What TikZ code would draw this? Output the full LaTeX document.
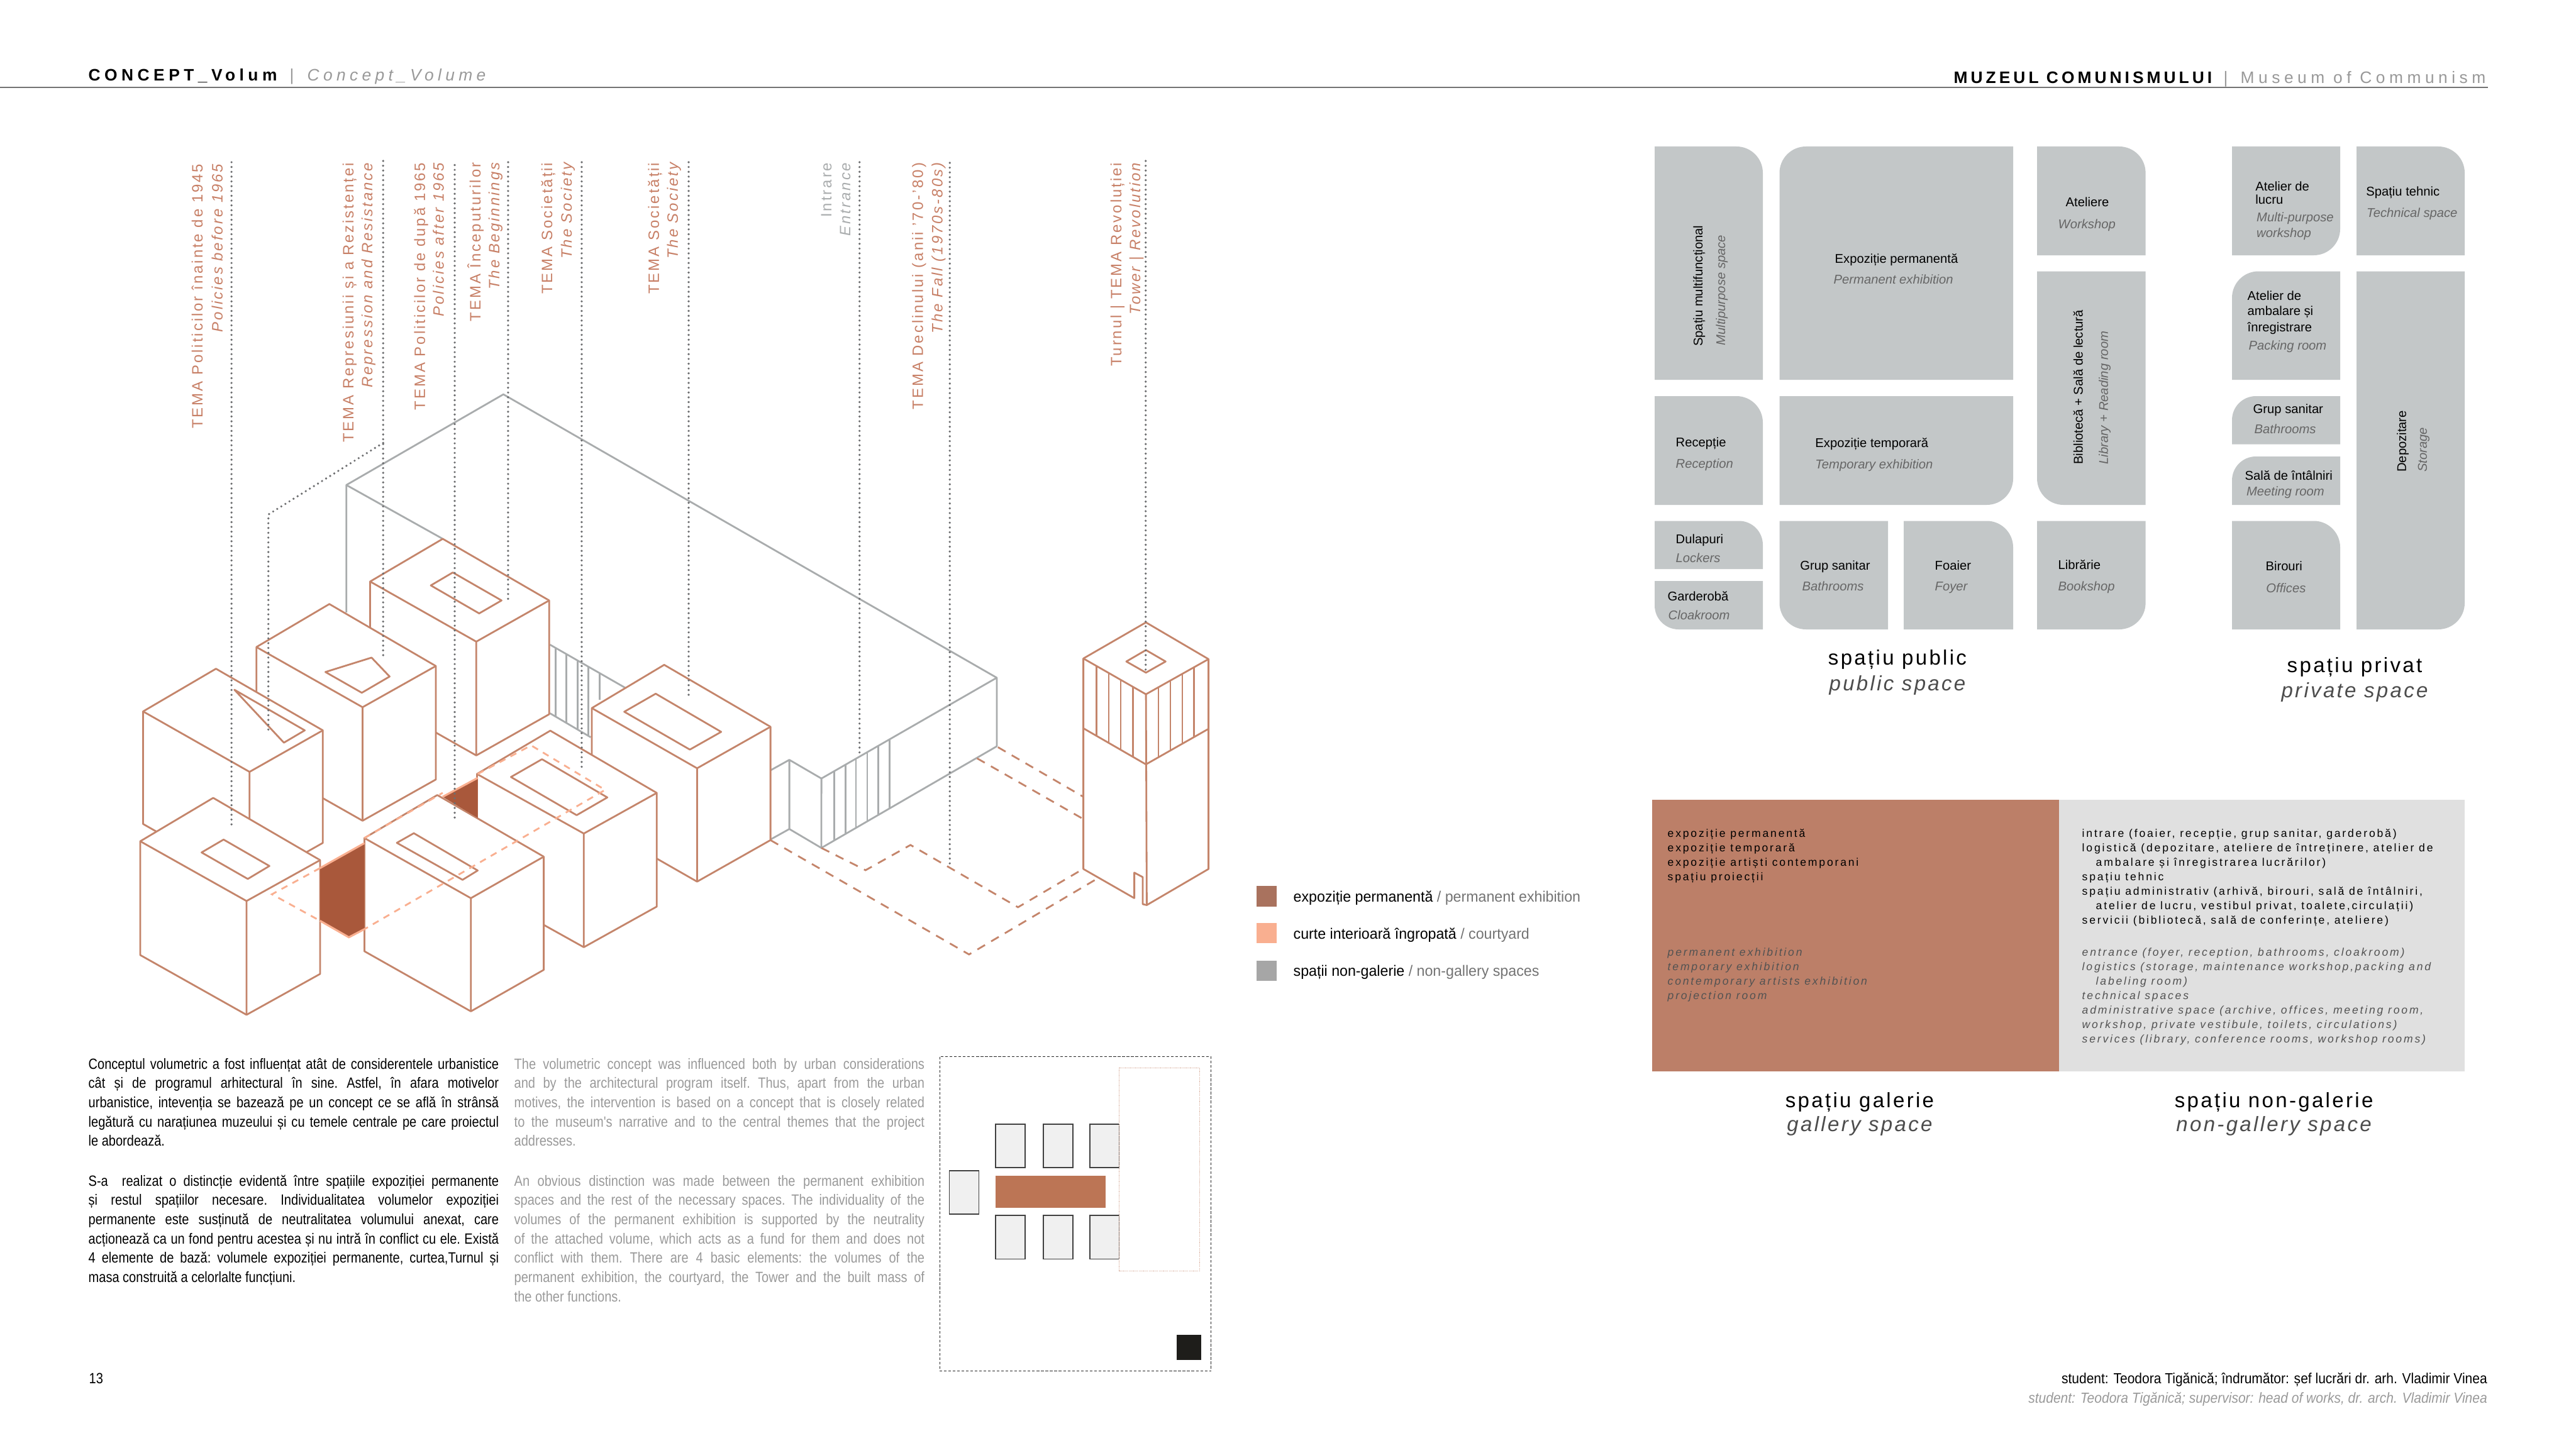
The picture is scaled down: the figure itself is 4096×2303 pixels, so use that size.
\documentclass[tikz,border=0pt]{standalone}
\usepackage{fontspec}
\setmainfont{Liberation Sans}
\newfontfamily\bodyfont[FakeStretch=0.85]{Liberation Sans}
\definecolor{terra}{HTML}{C4856B}
\definecolor{terratext}{HTML}{C77F66}
\definecolor{annexgray}{HTML}{A9ACAD}
\definecolor{guidegray}{HTML}{6D6E70}
\definecolor{salmon}{HTML}{F9AF90}
\definecolor{pitfill}{HTML}{A9583B}
\definecolor{roomgray}{HTML}{C3C7C8}
\definecolor{galbrown}{HTML}{BC7F68}
\definecolor{galgray}{HTML}{E0E0E0}
\definecolor{engray}{HTML}{999999}
\definecolor{roomen}{HTML}{666666}
\definecolor{planbrown}{HTML}{BC7555}
\definecolor{plantower}{HTML}{1E1D1A}
\tikzset{
  vol/.style={draw=terra,fill=white,line width=0.8pt,line join=round},
  hatchv/.style={draw=terra,line width=0.7pt},
  annex/.style={draw=annexgray,line width=0.8pt,line join=round},
  guide/.style={draw=guidegray,line width=1.05pt,line cap=round,dash pattern=on 0pt off 2.17pt},
  dashb/.style={draw=terra,line width=0.8pt,dash pattern=on 4pt off 3.2pt},
  dashs/.style={draw=salmon,line width=0.8pt,dash pattern=on 3pt off 2.6pt},
  room/.style={fill=roomgray},
  plainbox/.style={draw=black!75,fill=black!6,line width=0.5pt},
  lab/.style={inner sep=0pt,rotate=90,anchor=base east,text=terratext,
    font=\fontsize{6.8}{8}\selectfont\addfontfeatures{LetterSpace=12.5}},
  labit/.style={lab,font=\fontsize{6.8}{8}\selectfont\itshape\addfontfeatures{LetterSpace=12.5}},
  rm/.style={inner sep=0pt,anchor=base west,text=black,font=\fontsize{5.75}{7}\selectfont},
  rmen/.style={rm,text=roomen,font=\fontsize{5.75}{7}\selectfont\itshape},
  rot/.style={rotate=90},
  head/.style={inner sep=0pt,anchor=base,font=\fontsize{9.4}{11}\selectfont\addfontfeatures{LetterSpace=10}},
  headen/.style={head,text=black!70,font=\fontsize{9.4}{11}\selectfont\itshape\addfontfeatures{LetterSpace=10}},
  gal/.style={inner sep=0pt,anchor=base west,font=\fontsize{5}{6}\selectfont\addfontfeatures{LetterSpace=16}},
  galen/.style={gal,text=black!68,font=\fontsize{5}{6}\selectfont\itshape\addfontfeatures{LetterSpace=16}},
  body/.style={inner sep=0pt,anchor=base west,font=\bodyfont\fontsize{6.7}{8}\selectfont\frenchspacing},
  bodyen/.style={body,text=engray},
  foot/.style={body,anchor=base east,font=\bodyfont\fontsize{6.6}{8}\selectfont\addfontfeatures{FakeStretch=0.905}},
  top/.style={inner sep=0pt,anchor=base west,font=\fontsize{7.5}{9}\selectfont}
}
% one volume: top face left, back, right, front, then the height
\newcommand{\volbox}[9]{
  \path[vol] (#1,#2) -- (#3,#4) -- (#5,#6) -- (#5,{#6+#9}) -- (#7,{#8+#9}) -- (#1,{#2+#9}) -- cycle;
  \draw[vol] (#1,#2) -- (#7,#8) -- (#5,#6) (#7,#8) -- (#7,{#8+#9});
}
% one room: box corners, then the radius of tl, tr, br, bl
\newcommand{\roomblock}[8]{
  \fill[room] ({#1+#5},#2) -- ({#3-#6},#2) arc[start angle=-90,end angle=0,radius=#6]
    -- (#3,{#4-#7}) arc[start angle=0,end angle=90,radius=#7]
    -- ({#1+#8},#4) arc[start angle=90,end angle=180,radius=#8]
    -- (#1,{#2+#5}) arc[start angle=180,end angle=270,radius=#5] -- cycle;
}
\begin{document}
\begin{tikzpicture}[x=0.01cm,y=-0.01cm]
  \useasboundingbox (0,0) rectangle (4096,2303);
  % the page header
  \draw[black!55,line width=0.5pt] (0,138.7) -- (3955.6,138.7);
  \node[top,font=\fontsize{7.5}{9}\selectfont\bfseries\addfontfeatures{LetterSpace=24.5}] (hl) at (140,129) {CONCEPT\_Volum};
  \node[top,text=engray] (hbar) at (460,129) {|};
  \node[top,text=engray,font=\fontsize{7.5}{9}\selectfont\itshape\addfontfeatures{LetterSpace=24}] (hle) at (488,129) {Concept\_Volume};
  \node[top,font=\fontsize{7.5}{9}\selectfont\bfseries\addfontfeatures{LetterSpace=19}] (hr) at (3106,132.3) {MUZEUL COMUNISMULUI};
  \node[top,text=engray] (hrbar) at (3535,132.3) {|};
  \node[top,text=engray,font=\fontsize{7.5}{9}\selectfont\addfontfeatures{LetterSpace=24.6}] (hre) at (3562,132.3) {Museum of Communism};
  % the annex behind the volumes
  \draw[annex] (550.7,974) -- (550.7,771.4) -- (800.4,627.2) -- (1584.9,1077.9) -- (1584.9,1187) -- (1306,1348.6) -- (1306.1,1238.2) -- (1584.9,1077.9);
  \draw[annex] (550.7,771.4) -- (704,857);
  \draw[annex] (1306.1,1238.2) -- (1255.1,1208.5) -- (1255.1,1318.5) -- (1306,1348.6);
  \draw[annex] (1225.1,1225.2) -- (1255.1,1208.5) (1225.1,1335.2) -- (1255.1,1318.5);
  \foreach \hx in {1326.6,1344.4,1361,1378.9,1396.7,1414.6}
    \draw[annex] (\hx,{1238.2-(\hx-1306)*0.575}) -- (\hx,{1348.6-(\hx-1306)*0.579});
  \draw[annex] (874.4,1025.3) -- (993.8,1093.7) (874.4,1134.4) -- (939.3,1172.6);
  \foreach \hx/\ht/\hb in {883.6/1030.6/1140.1,900.2/1040.1/1148.7,918.6/1050.7/1160.7,935.8/1060.7/1170.2,953.6/1071.2/1112.8}
    \draw[annex] (\hx,\ht) -- (\hx,\hb);
  % the paths on the ground
  \draw[dashb] (1586.8,1188.4) -- (1722.6,1267.3);
  \draw[dashb] (1553.6,1206.1) -- (1722.6,1302.7);
  \draw[dashb] (1225.1,1336.2) -- (1540.8,1518) -- (1743,1398.4);
  \draw[dashb] (1306,1348.6) -- (1376.3,1384) -- (1447.7,1343.9) -- (1618.7,1442.9) -- (1720.6,1383);
  % the volumes, back to front
  \volbox{588.5}{924.9}{704}{857}{873.2}{955}{757.3}{1020.5}{181}
  \draw[vol] (720,910.5) -- (797.5,955) -- (761.9,975.6) -- (685,931.1) -- cycle;
  \volbox{407.7}{1029.1}{523.7}{960.7}{693}{1059.3}{576.5}{1124.8}{180.5}
  \draw[vol] (517.4,1068.8) -- (590.8,1045.9) -- (619.5,1076) -- (575.3,1101.8) -- cycle;
  \volbox{941}{1126.2}{1056.1}{1057.4}{1225.1}{1155.9}{1108.4}{1221.9}{180.3}
  \draw[vol] (1042.6,1103.3) -- (1146.7,1164) -- (1096.9,1192.2) -- (992.6,1132) -- cycle;
  \volbox{227.5}{1131.5}{343.4}{1063.6}{513.3}{1161.6}{396.8}{1227.6}{179}
  \draw[vol] (372.7,1097) -- (484.6,1161.6) -- (451.4,1181.2) -- cycle;
  \volbox{758.4}{1231}{875}{1162.1}{1044.3}{1261.1}{928.3}{1325.7}{180.8}
  \draw[vol] (861.8,1207.5) -- (965.7,1268.3) -- (916.9,1296.5) -- (812.4,1235.8) -- cycle;
  \volbox{223}{1338}{339}{1269}{509}{1368}{392}{1433}{181}
  \draw[vol] (355.5,1335.3) -- (428.4,1377.3) -- (394,1397.9) -- (320.5,1355.8) -- cycle;
  \volbox{579.4}{1332.9}{695.3}{1264.5}{864.6}{1362.5}{748.7}{1428.5}{180}
  \draw[vol] (658,1325.2) -- (759.6,1384.5) -- (735.5,1399.3) -- (631,1340.5) -- cycle;
  % the sunken courtyard
  \fill[pitfill] (508.8,1380.7) -- (579.4,1341) -- (579.4,1477.8) -- (554.7,1490.7) -- (508.8,1464.4) -- cycle;
  \fill[pitfill] (703.9,1267.3) -- (759.6,1237.2) -- (759.6,1300.8) -- cycle;
  \draw[salmon,line width=0.9pt] (508.8,1380.7) -- (579.4,1341);
  \draw[salmon,line width=0.9pt] (579.4,1477.8) -- (554.7,1490.7) -- (508.8,1464.4);
  \draw[salmon,line width=0.9pt] (703.9,1267.3) -- (759.6,1237.2);
  \draw[dashs] (508.8,1380.7) -- (432.4,1422.3) -- (508.8,1464.4);
  \draw[dashs] (579.4,1332.9) -- (703.9,1261) (759.6,1231) -- (844.5,1185.5) -- (962.2,1256.3) -- (579.4,1477.8);
  % the tower
  \path[vol] (1722.6,1047.3) -- (1822.1,989.9) -- (1921.6,1048.3) -- (1921.6,1382.1) -- (1823.4,1439.5)
    -- (1817,1438) -- (1817,1395) -- (1803.6,1387.9) -- (1803.6,1428.5) -- (1722.6,1382.1) -- cycle;
  \draw[vol] (1722.6,1047.3) -- (1822.1,1104.2) -- (1921.6,1048.3);
  \draw[vol] (1722.6,1158.3) -- (1822.1,1215.7) -- (1921.6,1159.2);
  \draw[vol] (1822.1,1104.2) -- (1823.4,1439.5);
  \draw[vol] (1822.1,1033.9) -- (1853.4,1052.1) -- (1822.1,1069.8) -- (1790.9,1052.1) -- cycle;
  \foreach \hx in {1743.7,1762.8,1781.9,1801.7}
    \draw[hatchv] (\hx,{1047.3+(\hx-1722.6)*0.5785}) -- (\hx,{1158.3+(\hx-1722.6)*0.5785});
  \foreach \hx in {1841.9,1861,1880.2,1898.7}
    \draw[hatchv] (\hx,{1104.2-(\hx-1822.1)*0.5585}) -- (\hx,{1215.7-(\hx-1822.1)*0.5585});
  % the dotted leaders
  \foreach \gx/\gt/\gb in {368.1/258/1313.7,609.2/256/1042.5,723/262.5/1307.4,807.9/258/957.4,924.9/258/1225.2,1095/258/1108,1366.7/258/1199,1510.2/259/1380.7,1821.7/256/1065}
    \draw[guide] (\gx,\gt) -- (\gx,\gb);
  \draw[guide] (609.2,704.5) -- (426.7,818.3) -- (426.7,1166.9);
  % the theme labels, one node per line
  \foreach \xa/\xb/\yt/\tro/\ten in {322.2/353.8/260/{TEMA Politicilor înainte de 1945}/{Policies before 1965},
      562/592/258/{TEMA Represiunii și a Rezistenței}/{Repression and Resistance},
      675.8/705.7/258/{TEMA Politicilor de după 1965}/{Policies after 1965},
      764/794/258/{TEMA Începuturilor}/{The Beginnings},
      878/909/258/{TEMA Societății}/{The Society},
      1047.8/1077.8/258/{TEMA Societății}/{The Society},
      1467.5/1498.7/258/{TEMA Declinului (anii '70-'80)}/{The Fall (1970s-80s)},
      1783/1813/258/{Turnul | TEMA Revoluției}/{Tower | Revolution}}{
    \node[lab] (ro\xa) at (\xa,\yt) {\tro};
    \node[labit] (en\xa) at (\xb,\yt) {\ten};
  }
  \node[lab,text=annexgray] (intrare) at (1322,258) {Intrare};
  \node[labit,text=annexgray] (entrance) at (1352,258) {Entrance};
  % the legend
  \fill[galbrown!90!black] (1998,1409) rectangle (2030,1442);
  \fill[salmon] (1998,1468) rectangle (2030,1500);
  \fill[black!35] (1998,1527.5) rectangle (2030,1560);
  \foreach \yy/\tro/\ten in {1434/{expoziție permanentă}/{permanent exhibition},
      1493/{curte interioară îngropată}/{courtyard},
      1552/{spații non-galerie}/{non-gallery spaces}}
    \node[inner sep=0pt,anchor=base west,font=\bodyfont\fontsize{6.8}{8}\selectfont\addfontfeatures{FakeStretch=0.97}] (leg\yy) at (2056,\yy) {\tro\ \textcolor{black!55}{/ \ten}};
  % the public rooms
  \roomblock{2631}{233}{2803}{604}{0}{42}{0}{0}
  \roomblock{2829.5}{233}{3201}{604}{42}{0}{0}{0}
  \roomblock{3239}{233}{3411.6}{406}{0}{42}{0}{0}
  \roomblock{3239}{431.5}{3411.6}{803}{0}{0}{0}{42}
  \roomblock{2631}{630}{2803}{803}{0}{42}{0}{0}
  \roomblock{2829.5}{630}{3201}{803}{0}{0}{42}{0}
  \roomblock{2631}{828.5}{2803}{905}{0}{38}{0}{0}
  \roomblock{2631}{924}{2803}{1001}{0}{0}{0}{38}
  \roomblock{2829.5}{828.5}{3002}{1001}{0}{0}{0}{42}
  \roomblock{3027}{828.5}{3201}{1001}{0}{42}{0}{0}
  \roomblock{3239}{828.5}{3411.6}{1001}{0}{0}{42}{0}
  % the private rooms
  \roomblock{3549}{233}{3721}{406}{0}{0}{42}{0}
  \roomblock{3747}{233}{3919}{406}{0}{42}{0}{0}
  \roomblock{3549}{431.5}{3721}{604}{42}{0}{0}{0}
  \roomblock{3549}{630}{3721}{706.7}{38}{0}{0}{0}
  \roomblock{3549}{726}{3721}{803}{38}{0}{0}{0}
  \roomblock{3549}{828.5}{3721}{1001}{0}{42}{0}{0}
  \roomblock{3747}{431.5}{3919}{1001}{0}{0}{42}{0}
  % the room names
  \foreach \px/\py/\txt in {2917/418/{Expoziție permanentă},3284/328.5/Ateliere,2664/710/Recepție,
      2885.7/711/{Expoziție temporară},2664/864/Dulapuri,2651/955/Garderobă,2861.6/906/{Grup sanitar},
      3076/906/Foaier,3272/905.5/Librărie,3585.7/304/{Atelier de},3585.7/324/lucru,3761.6/311.5/{Spațiu tehnic},
      3573/477.6/{Atelier de},3573/501.8/{ambalare și},3573/527.3/înregistrare,3582/657.6/{Grup sanitar},
      3568.8/763.6/{Sală de întâlniri},3601.8/907.3/Birouri}
    \node[rm] (n\px-\py) at (\px,\py) {\txt};
  \foreach \px/\py/\txt in {2915/451.5/{Permanent exhibition},3272/363.6/Workshop,2664/744/Reception,
      2885.7/745/{Temporary exhibition},2664/894/Lockers,2652/985/Cloakroom,2865/939/Bathrooms,
      3076/939/Foyer,3272/939/Bookshop,3587.5/352.7/{Multi-purpose},3587.5/377/workshop,3762.5/345.5/{Technical space},
      3575/556.4/{Packing room},3584/689.7/Bathrooms,3571.4/788/{Meeting room},3602.7/942.4/Offices}
    \node[rmen] (e\px-\py) at (\px,\py) {\txt};
  \node[rm,rot] (multi) at (2707,551.5) {Spațiu multifuncțional};
  \node[rmen,rot] (multien) at (2743,550) {Multipurpose space};
  \node[rm,rot] (biblio) at (3311.6,739.4) {Bibliotecă + Sală de lectură};
  \node[rmen,rot] (biblioen) at (3351.8,739.4) {Library + Reading room};
  \node[rm,rot] (depo) at (3825.9,751.5) {Depozitare};
  \node[rmen,rot] (depoen) at (3858.9,751.5) {Storage};
  \node[head] (pub) at (3017,1057.6) {spațiu public};
  \node[headen] (puben) at (3017,1098) {public space};
  \node[head] (priv) at (3744,1069.7) {spațiu privat};
  \node[headen] (priven) at (3744,1109) {private space};
  % the two programme panels
  \fill[galbrown] (2626.8,1272) rectangle (3274,1704);
  \fill[galgray] (3274,1272) rectangle (3919,1704);
  \foreach \yy/\txt in {1331/{expoziție permanentă},1354/{expoziție temporară},1377/{expoziție artiști contemporani},1400/{spațiu proiecții}}
    \node[gal] (gro\yy) at (2651,\yy) {\txt};
  \foreach \yy/\txt in {1520/{permanent exhibition},1543/{temporary exhibition},1566/{contemporary artists exhibition},1589/{projection room}}
    \node[galen] (gen\yy) at (2651,\yy) {\txt};
  \foreach \xx/\yy/\txt in {3310/1331/{intrare (foaier, recepție, grup sanitar, garderobă)},
      3310/1354/{logistică (depozitare, ateliere de întreținere, atelier de},
      3332/1377/{ambalare și înregistrarea lucrărilor)},
      3310/1400/{spațiu tehnic},
      3310/1423/{spațiu administrativ (arhivă, birouri, sală de întâlniri,},
      3332/1446/{atelier de lucru, vestibul privat, toalete,circulații)},
      3310/1469/{servicii (bibliotecă, sală de conferințe, ateliere)}}
    \node[gal] (nro\yy) at (\xx,\yy) {\txt};
  \foreach \xx/\yy/\txt in {3310/1520/{entrance (foyer, reception, bathrooms, cloakroom)},
      3310/1543/{logistics (storage, maintenance workshop,packing and},
      3332/1566/{labeling room)},
      3310/1589/{technical spaces},
      3310/1612/{administrative space (archive, offices, meeting room,},
      3310/1635/{workshop, private vestibule, toilets, circulations)},
      3310/1658/{services (library, conference rooms, workshop rooms)}}
    \node[galen] (nen\yy) at (\xx,\yy) {\txt};
  \node[head] (gals) at (2957,1761) {spațiu galerie};
  \node[headen] (galsen) at (2957,1799) {gallery space};
  \node[head] (ngal) at (3615.6,1761) {spațiu non-galerie};
  \node[headen] (ngalen) at (3615.6,1799) {non-gallery space};
  % the text columns, one node per line
  \foreach \yy/\txt in {1700/{Conceptul volumetric a fost influențat atât de considerentele urbanistice},
      1730.7/{cât și de programul arhitectural în sine. Astfel, în afara motivelor},
      1761.4/{urbanistice, intevenția se bazează pe un concept ce se află în strânsă},
      1792/{legătură cu narațiunea muzeului și cu temele centrale pe care proiectul},
      1886/{S-a\ \ realizat o distincție evidentă între spațiile expoziției permanente},
      1916.7/{și restul spațiilor necesare. Individualitatea volumelor expoziției},
      1947.4/{permanente este susținută de neutralitatea volumului anexat, care},
      1978/{acționează ca un fond pentru acestea și nu intră în conflict cu ele. Există},
      2008.8/{4 elemente de bază: volumele expoziției permanente, curtea,Turnul și}}
    \node[body] (tro\yy) at (140,\yy) {\makebox[6.52cm][s]{\txt}};
  \node[body] (tro1822) at (140,1822.8) {le abordează.};
  \node[body] (tro2039) at (140,2039.5) {masa construită a celorlalte funcțiuni.};
  \foreach \yy/\txt in {1700/{The volumetric concept was influenced both by urban considerations},
      1730.7/{and by the architectural program itself. Thus, apart from the urban},
      1761.4/{motives, the intervention is based on a concept that is closely related},
      1792/{to the museum's narrative and to the central themes that the project},
      1886/{An obvious distinction was made between the permanent exhibition},
      1916.7/{spaces and the rest of the necessary spaces. The individuality of the},
      1947.4/{volumes of the permanent exhibition is supported by the neutrality},
      1978/{of the attached volume, which acts as a fund for them and does not},
      2008.8/{conflict with them. There are 4 basic elements: the volumes of the},
      2039.5/{permanent exhibition, the courtyard, the Tower and the built mass of}}
    \node[bodyen] (ten\yy) at (817,\yy) {\makebox[6.52cm][s]{\txt}};
  \node[bodyen] (ten1822) at (817,1822.8) {addresses.};
  \node[bodyen] (ten2070) at (817,2070) {the other functions.};
  % the small plan
  \draw[black!85,line width=0.35pt,dash pattern=on 1.2pt off 0.8pt] (1494.2,1680.7) rectangle (1925.6,2180.7);
  \foreach \xa/\xb in {1583.3/1630.3,1659/1706,1732.7/1779.7}{
    \draw[plainbox] (\xa,1788.2) rectangle (\xb,1857.1);
    \draw[plainbox] (\xa,1933.2) rectangle (\xb,2002.5);
  }
  \draw[plainbox] (1509.6,1861.8) rectangle (1556.6,1931);
  \fill[white] (1779.7,1697.9) rectangle (1907.4,2021.4);
  \draw[terra!70,line width=0.2pt,dash pattern=on 0.35pt off 0.3pt] (1779.7,1697.9) rectangle (1907.4,2021.4);
  \fill[planbrown] (1583.3,1870.4) rectangle (1758,1921);
  \fill[plantower] (1870.9,2123.2) rectangle (1910.2,2162.9);
  % the page foot
  \node[body] (page) at (141,2200) {13};
  \node[foot] (stud) at (3955.5,2200.7) {student: Teodora Tigănică; îndrumător: șef lucrări dr. arh. Vladimir Vinea};
  \node[foot,text=engray,font=\bodyfont\fontsize{6.6}{8}\selectfont\itshape\addfontfeatures{FakeStretch=0.905}] (studen) at (3955.5,2231.7) {student: Teodora Tigănică; supervisor: head of works, dr. arch. Vladimir Vinea};
\end{tikzpicture}
\end{document}
